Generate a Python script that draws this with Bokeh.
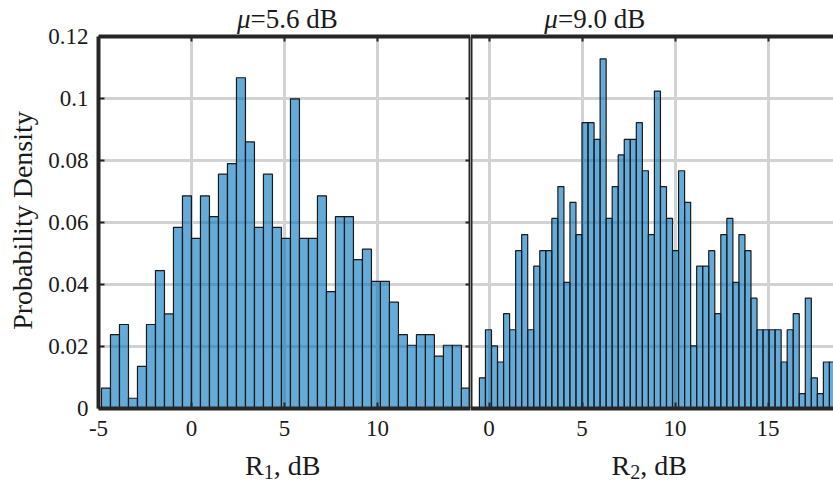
import math
from bokeh.plotting import figure
from bokeh.models import Range1d, FixedTicker, Label, ColumnDataSource, LinearAxis, Grid
from bokeh.layouts import row, column
from bokeh.embed import file_html
from bokeh.resources import INLINE

# ---------------- data ----------------
left_bin_start = -4.84
left_bin_width = 0.4838
left_density = [0.0066, 0.0238, 0.0271, 0.0033, 0.0136, 0.0271, 0.0445, 0.0305, 0.0584, 0.0686,
                0.0549, 0.0686, 0.0619, 0.0756, 0.0790, 0.1067, 0.0860, 0.0584, 0.0756, 0.0584,
                0.0549, 0.0999, 0.0549, 0.0549, 0.0686, 0.0377, 0.0619, 0.0619, 0.0480, 0.0514,
                0.0410, 0.0410, 0.0343, 0.0238, 0.0204, 0.0238, 0.0238, 0.0169, 0.0204, 0.0204,
                0.0066]

right_bin_start = -0.52
right_bin_width = 0.3245
right_density = [0.0099, 0.0254, 0.0202, 0.0150, 0.0306, 0.0254, 0.0509, 0.0561, 0.0254, 0.0459,
                 0.0509, 0.0509, 0.0613, 0.0716, 0.0407, 0.0665, 0.0561, 0.0922, 0.0922, 0.0868,
                 0.1128, 0.0613, 0.0716, 0.0818, 0.0868, 0.0868, 0.0922, 0.0767, 0.0561, 0.1024,
                 0.0716, 0.0613, 0.0509, 0.0767, 0.0665, 0.0202, 0.0459, 0.0459, 0.0509, 0.0306,
                 0.0561, 0.0613, 0.0407, 0.0561, 0.0509, 0.0356, 0.0254, 0.0254, 0.0254, 0.0254,
                 0.0150, 0.0254, 0.0306, 0.0048, 0.0356, 0.0099, 0.0048, 0.0150, 0.0150]

left_xticks = [-5, 0, 5, 10]
right_xticks = [0, 5, 10, 15]
yticks = [0, 0.02, 0.04, 0.06, 0.08, 0.1, 0.12]
ytick_labels = ["0", "0.02", "0.04", "0.06", "0.08", "0.1", "0.12"]
ymax = 0.12
mu_values = ["5.6", "9.0"]
xlabel_subs = ["1", "2"]
ylabel = "Probability Density"

# ---------------- style ----------------
FONT = "Liberation Serif"
AX = "#262626"
GRID = "#d2d2d2"
BAR = "#0072BD"
TXT = "#1a1a1a"

YSTRIP_W = 40
LEFT_W, RIGHT_W = 430, 363
LEFT_BORDER = 58
TOTAL_H = 487
MAIN_H, BOT_H = 448, 39
LEFT_XR = (-5, 15)
RIGHT_XR = (-1, 18.52)
PX_Y = ymax / 372.0      # one pixel in y data units
HEADROOM = 36 * PX_Y     # room above the box for the panel title
EPS = 1e-4               # keeps the edge line off the range end (grid skips range ends)


def tick_only_axis(ticks, fixed, bounds, tick_in, tick_out):
    ax = LinearAxis(ticker=FixedTicker(ticks=ticks), fixed_location=fixed, bounds=bounds,
                    major_label_text_font_size="0px", major_label_standoff=0,
                    major_tick_in=tick_in, major_tick_out=tick_out, major_tick_line_width=2,
                    major_tick_line_color=AX, minor_tick_line_color=None,
                    axis_line_color=AX, axis_line_width=4)
    ax.major_label_overrides = {t: "" for t in ticks}
    return ax


def edge_line(x):
    return Grid(dimension=0, ticker=FixedTicker(ticks=[x]), cross_bounds=(0, ymax),
                grid_line_color=AX, grid_line_width=4)


def make_panel(xr, width, min_left, density, start, bw, xticks, is_left):
    p = figure(width=width, height=MAIN_H, x_range=Range1d(*xr),
               y_range=Range1d(0, ymax + HEADROOM),
               toolbar_location=None, output_backend="svg",
               min_border_left=min_left, min_border_right=0,
               min_border_top=0, min_border_bottom=40,
               y_axis_location="left" if is_left else None,
               background_fill_color="white", border_fill_color="white",
               outline_line_color=None)
    n = len(density)
    src = ColumnDataSource(dict(left=[start + i * bw for i in range(n)],
                                right=[start + (i + 1) * bw for i in range(n)],
                                top=density))
    p.quad(left="left", right="right", top="top", bottom=0, source=src,
           fill_color=BAR, fill_alpha=0.6, line_color="#1a1a1a", line_width=1.2)

    p.xaxis.ticker = FixedTicker(ticks=xticks)
    p.xaxis.major_label_overrides = {t: str(t) for t in xticks}
    p.xaxis.minor_tick_line_color = None
    p.xaxis.major_tick_in = 6
    p.xaxis.major_tick_out = 0
    p.xaxis.major_tick_line_width = 2
    p.xaxis.major_tick_line_color = AX
    p.xaxis.axis_line_width = 4
    p.xaxis.axis_line_color = AX
    p.xaxis.major_label_text_font = FONT
    p.xaxis.major_label_text_font_size = "23px"
    p.xaxis.major_label_text_color = TXT
    p.xaxis.major_label_standoff = 12

    # top edge of the box, with small inward ticks
    p.add_layout(tick_only_axis(xticks, ymax, "auto", 5, 0), "above")

    p.xgrid.ticker = FixedTicker(ticks=xticks)
    p.xgrid.cross_bounds = (0, ymax)
    p.ygrid.ticker = FixedTicker(ticks=yticks)
    for g in (p.xgrid, p.ygrid):
        g.grid_line_color = GRID
        g.grid_line_width = 3

    if is_left:
        p.yaxis.ticker = FixedTicker(ticks=yticks)
        p.yaxis.bounds = (0, ymax)
        p.yaxis.major_label_overrides = {t: s for t, s in zip(yticks, ytick_labels)}
        p.yaxis.minor_tick_line_color = None
        p.yaxis.major_tick_in = 6
        p.yaxis.major_tick_out = 0
        p.yaxis.major_tick_line_width = 2
        p.yaxis.major_tick_line_color = AX
        p.yaxis.axis_line_width = 4
        p.yaxis.axis_line_color = AX
        p.yaxis.major_label_text_font = FONT
        p.yaxis.major_label_text_font_size = "23px"
        p.yaxis.major_label_text_color = TXT
        p.yaxis.major_label_standoff = 10
        # right edge of the box, with small inward ticks
        p.add_layout(tick_only_axis(yticks, xr[1], (0, ymax), 0, 5), "left")
    else:
        # left edge of the box (shared divider)
        p.add_layout(edge_line(xr[0] + EPS))
    return p


def make_strip(xr, yr, width, min_left, height):
    s = figure(width=width, height=height, x_range=Range1d(*xr), y_range=Range1d(*yr),
               toolbar_location=None, output_backend="svg",
               min_border_left=min_left, min_border_right=0, min_border_top=0,
               min_border_bottom=0, x_axis_location=None, y_axis_location=None,
               background_fill_color="white", border_fill_color="white",
               outline_line_color=None)
    s.xgrid.visible = False
    s.ygrid.visible = False
    return s


def add_title(p, anchor_x, mu):
    p.add_layout(Label(x=anchor_x, y=ymax, y_offset=18, text="\u03bc", text_font=FONT,
                       text_font_size="27px", text_font_style="italic", text_align="right",
                       text_baseline="alphabetic", text_color=TXT))
    p.add_layout(Label(x=anchor_x, y=ymax, y_offset=18, text="=" + mu + " dB", text_font=FONT,
                       text_font_size="27px", text_align="left",
                       text_baseline="alphabetic", text_color=TXT))


def add_xlabel(s, anchor_x, sub):
    s.add_layout(Label(x=anchor_x, y=22, text="R", text_font=FONT,
                       text_font_size="28px", text_align="right",
                       text_baseline="alphabetic", text_color=TXT))
    s.add_layout(Label(x=anchor_x, y=16, text=sub, text_font=FONT,
                       text_font_size="20px", text_align="left",
                       text_baseline="alphabetic", text_color=TXT))
    s.add_layout(Label(x=anchor_x, y=22, x_offset=10, text=", dB", text_font=FONT,
                       text_font_size="28px", text_align="left",
                       text_baseline="alphabetic", text_color=TXT))


left = make_panel(LEFT_XR, LEFT_W, LEFT_BORDER, left_density, left_bin_start, left_bin_width,
                  left_xticks, True)
right = make_panel(RIGHT_XR, RIGHT_W, 0, right_density, right_bin_start, right_bin_width,
                   right_xticks, False)

bot_l = make_strip(LEFT_XR, (0, BOT_H), LEFT_W, LEFT_BORDER, BOT_H)
bot_r = make_strip(RIGHT_XR, (0, BOT_H), RIGHT_W, 0, BOT_H)

ystrip = make_strip((0, YSTRIP_W), (0, TOTAL_H), YSTRIP_W, 0, TOTAL_H)
ystrip.add_layout(Label(x=22, y=TOTAL_H - 220, text=ylabel, angle=math.pi / 2,
                        text_font=FONT, text_font_size="28px", text_align="center",
                        text_baseline="middle", text_color=TXT))

add_title(left, 3.17, mu_values[0])
add_title(right, 3.70, mu_values[1])
add_xlabel(bot_l, 3.88, xlabel_subs[0])
add_xlabel(bot_r, 7.59, xlabel_subs[1])

layout = row(ystrip, column(row(left, right), row(bot_l, bot_r)))
open("out.html", "w").write(file_html(layout, INLINE))
